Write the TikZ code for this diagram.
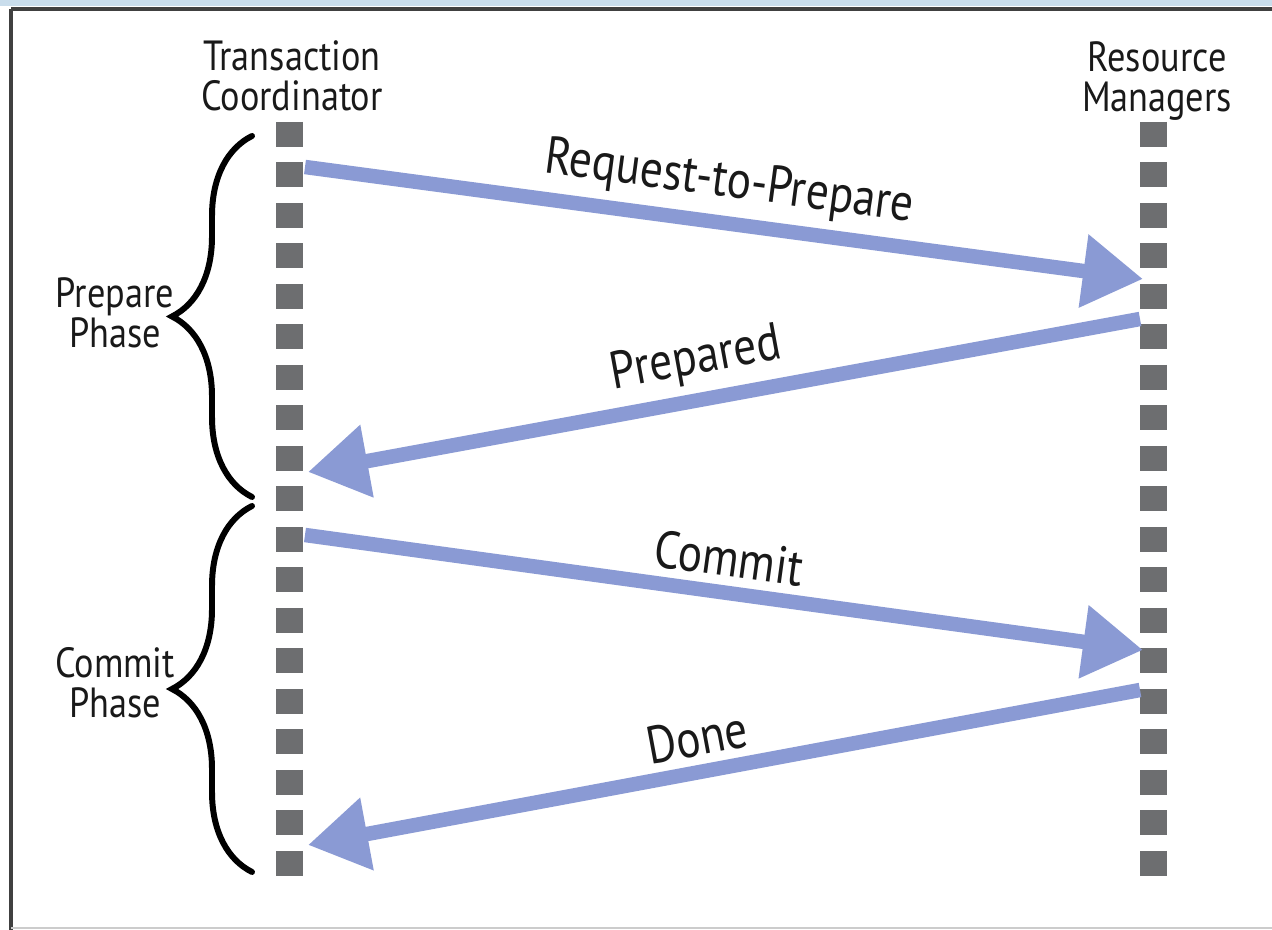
\documentclass[tikz,border=0pt]{standalone}
\usepackage{fontspec}
\setmainfont{PT Sans}[FakeStretch=0.86]
\usepackage{tikz}
\usetikzlibrary{positioning}
\usetikzlibrary{arrows.meta}
\usetikzlibrary{decorations.pathreplacing}
\definecolor{msgblue}{HTML}{8A9AD4}
\definecolor{lifegray}{HTML}{6D6E70}
\definecolor{bandblue}{HTML}{C9DDEC}
\tikzstyle{lifeline} = [draw=lifegray, line width=2.7mm, dash pattern=on 2.5mm off 1.55mm]
\tikzstyle{message} = [draw=msgblue, line width=1.45mm, -{Triangle[length=6mm,width=7mm]}]
\tikzstyle{msglabel} = [font=\fontsize{15}{17}\selectfont, sloped, above=0.85mm, inner sep=0pt, text=black!90]
\tikzstyle{header} = [align=center, font=\fontsize{12}{11.5}\selectfont, text=black!90, inner sep=0pt]
\tikzstyle{phase} = [draw, line width=1.7pt, line cap=round, decorate, decoration={brace, amplitude=8mm}]

\begin{document}
\begin{tikzpicture}[x=0.1mm, y=-0.1mm]

  \useasboundingbox (0,0) rectangle (1272,930);
  \fill[white] (0,0) rectangle (1272,930);

  % window frame
  \fill[bandblue] (0,0) rectangle (1272,6);
  \draw[black!75, line width=0.35mm] (11,9) -- (1272,9);
  \draw[black!75, line width=0.35mm] (11,9) -- (11,930);
  \draw[black!20, line width=0.2mm] (11,928) -- (1272,928);

  % lifelines
  \foreach \x/\name in {289/tc, 1153/rm} {
    \coordinate (\name top) at (\x,122);
    \coordinate (\name bot) at (\x,876);
    \path[lifeline] (\name top) -- (\name bot);
  }

  \node[header] (tchead) at (292,76) {Transaction\\Coordinator};
  \node[header] (rmhead) at (1157,81) {Resource\\Managers};

  % message end points
  \foreach \x/\y/\name in {305/167/req, 1143/279/reqend, 1140/319/prep, 308/472/prepend,
                           305/535/com, 1143/650/comend, 1140/690/done, 308/845/doneend}
    \coordinate (\name) at (\x,\y);

  \foreach \source/\dest/\label/\where in {req/reqend/Request-to-Prepare/0.5, prep/prepend/Prepared/0.525,
                                           com/comend/Commit/0.5, done/doneend/Done/0.525}
    \path[message] (\source) -- node[msglabel, pos=\where] {\label} (\dest);

  % phases
  \coordinate (pp1) at (252,497);
  \coordinate (pp2) at (252,136);
  \coordinate (cp1) at (252,872);
  \coordinate (cp2) at (252,506);
  \path[phase] (pp1) -- (pp2);
  \path[phase] (cp1) -- (cp2);

  \node[header] (prepphase) at (115,313) {Prepare\\Phase};
  \node[header] (comphase) at (115,683) {Commit\\Phase};

\end{tikzpicture}
\end{document}
